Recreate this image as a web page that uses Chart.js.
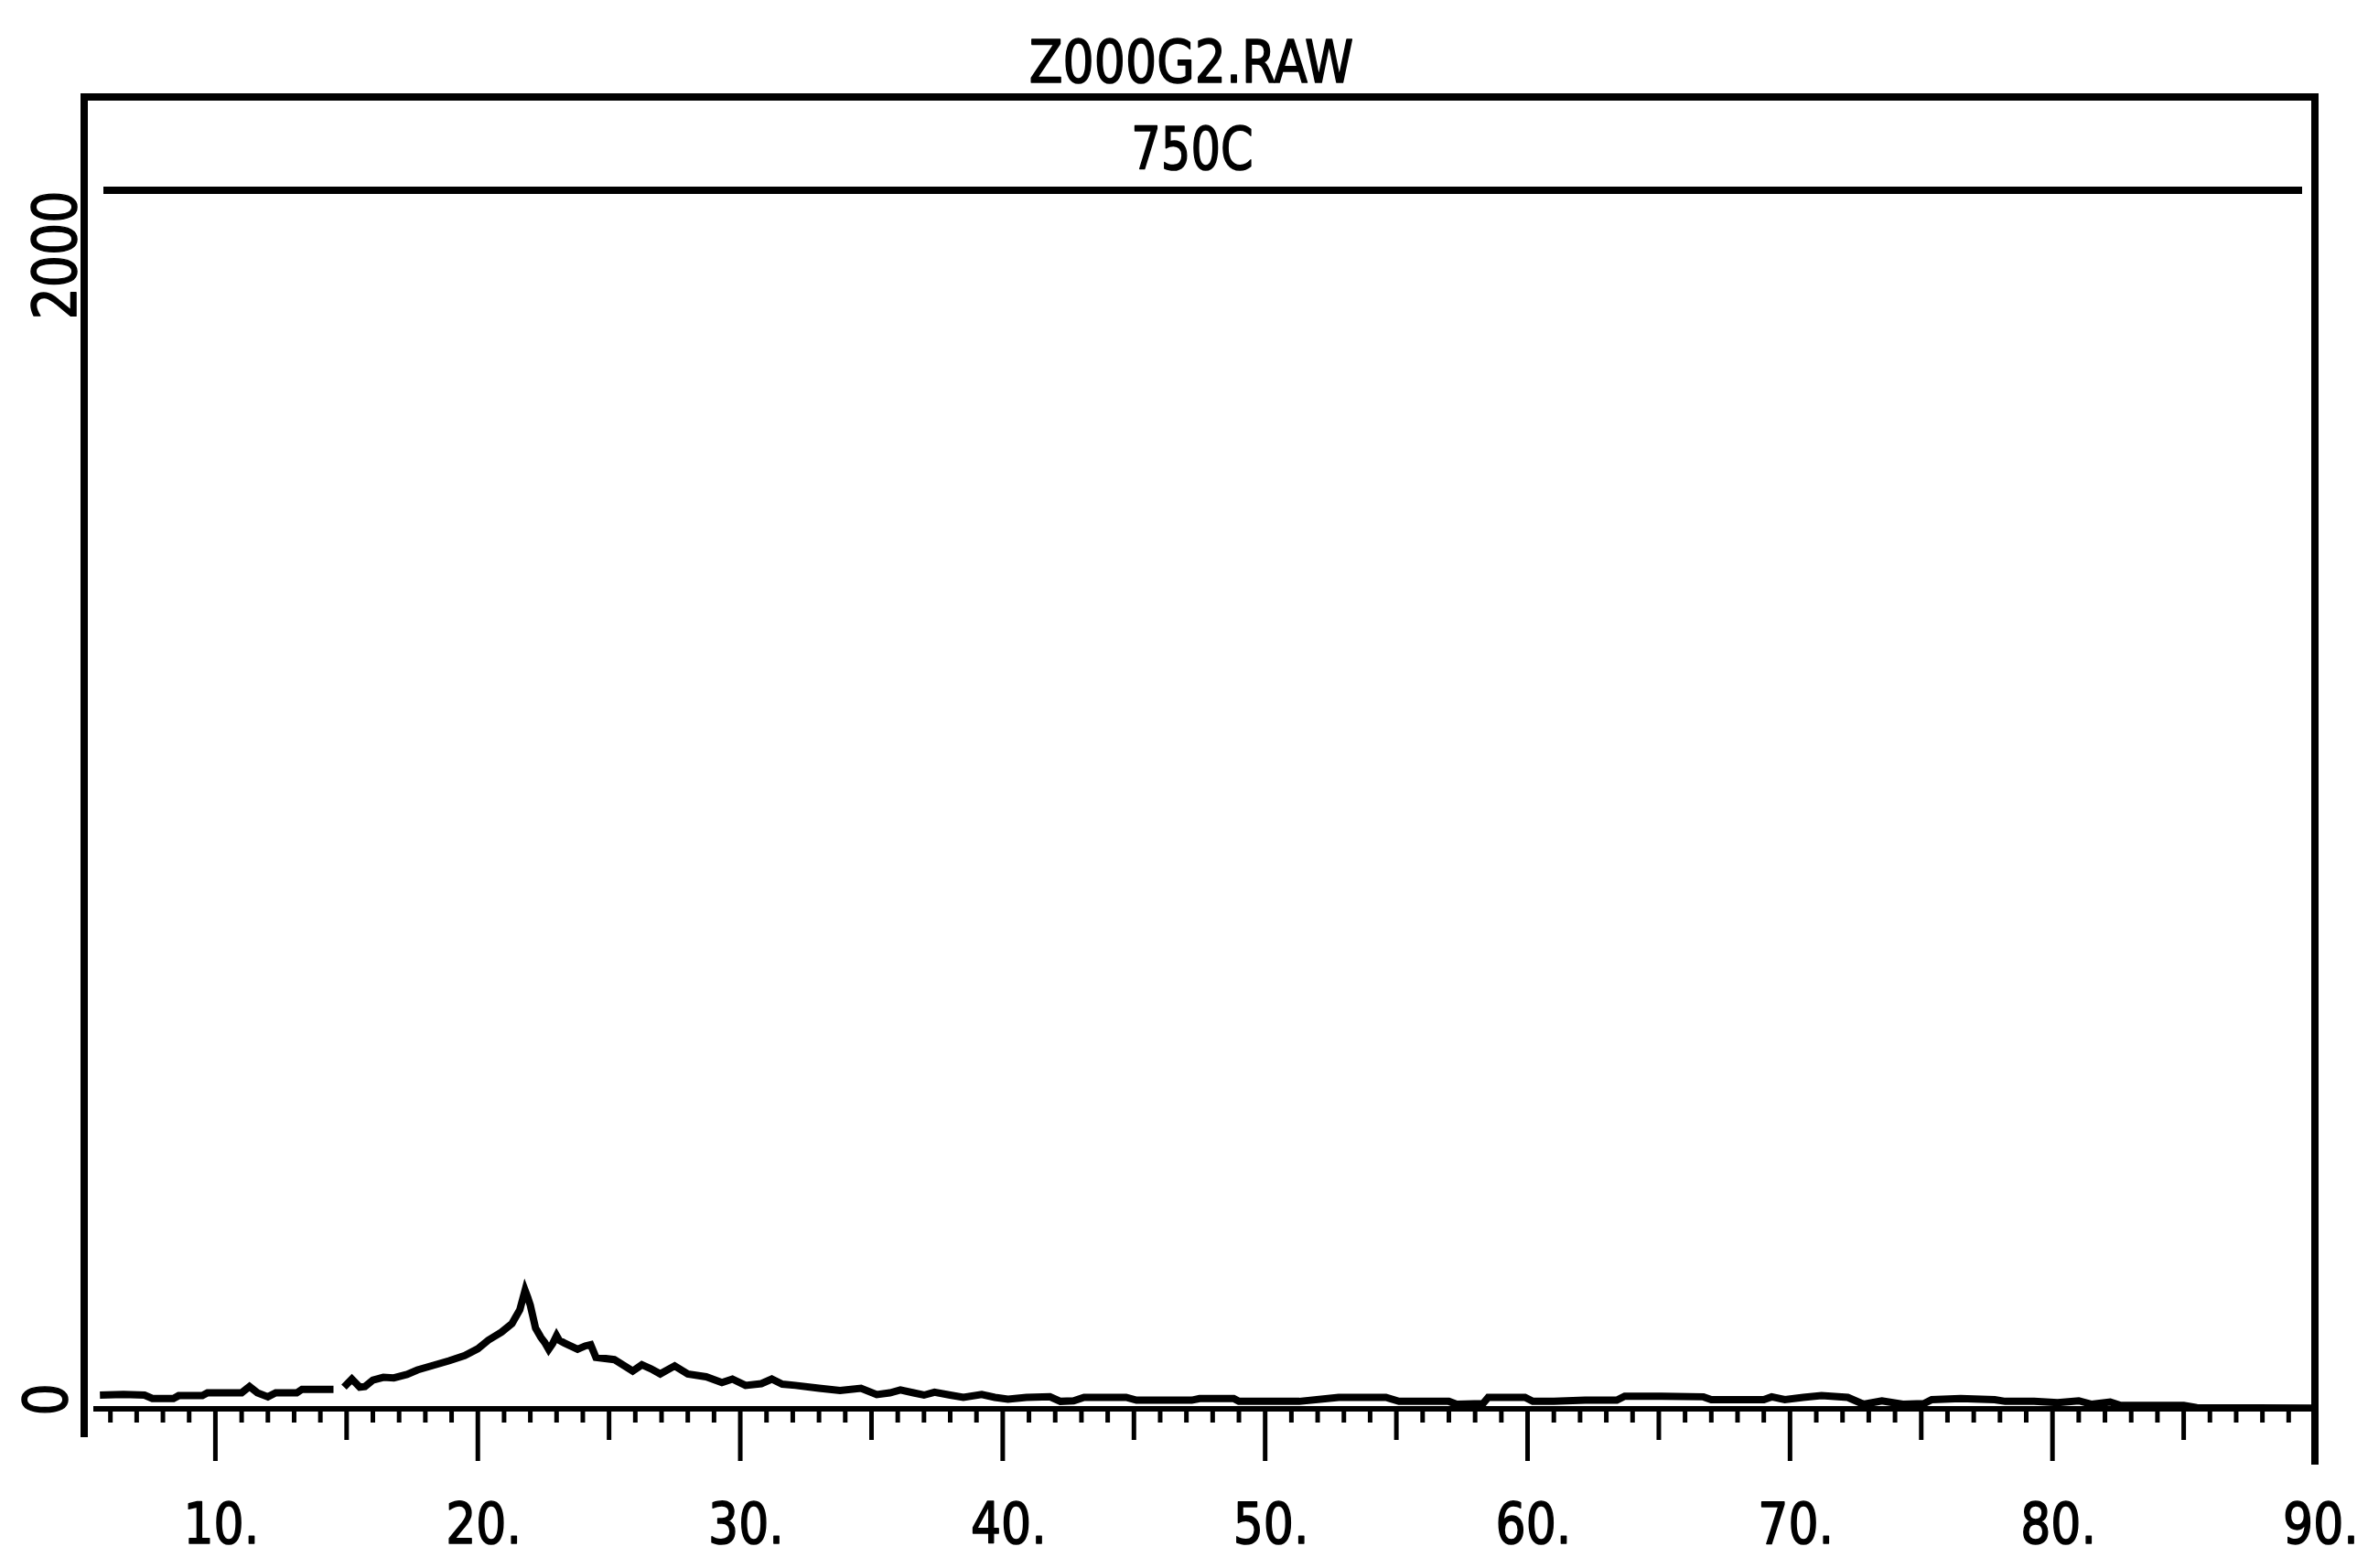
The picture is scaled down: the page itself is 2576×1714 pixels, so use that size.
<!DOCTYPE html>
<html>
<head>
<meta charset="utf-8">
<title>Z000G2.RAW</title>
<script src="https://cdn.jsdelivr.net/npm/chart.js@4/dist/chart.umd.min.js"></script>
<style>
    html, body { margin: 0; padding: 0; background: #fff; }
    canvas { display: block; }
</style>
</head>
<body>
<canvas id="xrdChart" width="2576" height="1714"></canvas>
<script>
// scan header
const fileName = "Z000G2.RAW";
const sampleLabel = "750C";

// 2-theta (deg) and counts; null = pen lift
const twoTheta = [
    5.6, 6.5, 7.3, 7.6, 8.4, 8.6, 9.5, 9.7, 11.0, 11.3, 11.6, 12.0, 12.3, 13.1, 13.3, 14.5,
    14.6, 14.9, 15.2, 15.5, 15.7, 16.0, 16.4, 16.8, 17.3, 17.7, 18.3, 18.9, 19.5, 20.0, 20.4,
    20.9, 21.3, 21.6, 21.8, 21.9, 22.0, 22.2, 22.4, 22.55, 22.7, 22.85, 23.0, 23.1, 23.3, 23.8,
    24.1, 24.3, 24.5, 25.2, 25.9, 26.25, 26.6, 26.95, 27.5, 28.0, 28.7, 29.3, 29.7, 30.2, 30.8,
    31.2, 31.6, 32.1, 33.0, 33.8, 34.6, 35.2, 35.7, 36.1, 36.6, 37.0, 37.4, 38.0, 38.5, 39.2,
    39.7, 40.2, 40.9, 41.8, 42.2, 42.7, 43.1, 44.7, 45.1, 47.2, 47.5, 48.8, 49.0, 51.3, 52.8,
    54.6, 55.1, 57.0, 57.3, 58.3, 58.5, 59.9, 60.2, 61.0, 62.2, 63.4, 63.7, 65.1, 66.7, 67.0,
    69.0, 69.3, 69.8, 70.5, 71.2, 72.2, 72.8, 73.5, 74.3, 75.1, 75.4, 76.5, 77.8, 78.2, 79.3,
    80.2, 81.0, 81.5, 82.2, 82.6, 85.0, 85.5, 90.0
];
const counts = [
    14, 15, 14, 8, 8, 13, 13, 18, 18, 29, 18, 11, 18, 18, 24, 24,
    null, 28, 42, 28, 29, 40, 45, 44, 50, 58, 66, 74, 83, 95, 110,
    124, 139, 163, 197, 185, 171, 131, 115, 106, 94, 104, 118, 110, 105, 94,
    100, 102, 80, 76, 56, 67, 60, 51, 65, 51, 46, 36, 42, 31, 34,
    42, 33, 31, 26, 22, 26, 15, 18, 23, 18, 14, 19, 14, 10, 15,
    10, 7, 10, 11, 3, 4, 10, 10, 5, 5, 8, 8, 3, 3, 10,
    10, 3, 3, -2, -1, 10, 10, 3, 3, 5, 5, 12, 12, 11, 6,
    6, 11, 6, 10, 13, 10, -2, 4, -2, -1, 6, 8, 6, 3, 3,
    1, 4, -2, 2, -4, -4, -8, -9
];

// axis labelling
const xMajorTicks = [10, 20, 30, 40, 50, 60, 70, 80, 90];
const xTickLabels = ["10.", "20.", "30.", "40.", "50.", "60.", "70.", "80.", "90."];
const yTicks = [0, 2000];
const yTickLabels = ["0", "2000"];
const headerLineCount = 2120;

const INK = "#000";
const FONT = '"DejaVu Sans", sans-serif';

// condensed plotter-style text: squeeze along the writing direction, thicken the pen a bit
function plotterText(ctx, text, x, y, size, squeeze, align, angle) {
    ctx.save();
    ctx.translate(x, y);
    if (angle) ctx.rotate(angle);
    ctx.scale(squeeze, 1);
    ctx.font = size + "px " + FONT;
    ctx.fillStyle = INK;
    ctx.strokeStyle = INK;
    ctx.lineWidth = 1.6;
    ctx.lineJoin = "round";
    ctx.textAlign = align;
    ctx.textBaseline = "alphabetic";
    ctx.fillText(text, 0, 0);
    ctx.strokeText(text, 0, 0);
    ctx.restore();
}

const framePlugin = {
    id: "plotterFrame",
    afterDraw(chart) {
        const ctx = chart.ctx;
        const area = chart.chartArea;
        const xs = chart.scales.x;
        const ys = chart.scales.y;

        ctx.save();
        ctx.strokeStyle = INK;
        ctx.lineCap = "square";

        // box: top, left, right
        ctx.lineWidth = 8;
        ctx.beginPath();
        ctx.moveTo(area.left, area.bottom + 27);
        ctx.lineTo(area.left, area.top);
        ctx.lineTo(area.right, area.top);
        ctx.lineTo(area.right, area.bottom + 57);
        ctx.stroke();

        // rule under the sample label
        const yHead = ys.getPixelForValue(headerLineCount);
        ctx.lineWidth = 8;
        ctx.beginPath();
        ctx.moveTo(area.left + 25, yHead);
        ctx.lineTo(area.right - 18, yHead);
        ctx.stroke();

        // bottom axis with hanging ticks
        ctx.lineWidth = 6;
        ctx.beginPath();
        ctx.moveTo(area.left + 13, area.bottom);
        ctx.lineTo(area.right, area.bottom);
        ctx.stroke();

        ctx.lineWidth = 5;
        ctx.lineCap = "butt";
        for (let t = Math.ceil(xs.min); t <= xs.max; t++) {
            if (t === xs.min) continue;
            let len = 15;
            if (t % 10 === 0) len = 57;
            else if (t % 5 === 0) len = 34;
            const px = xs.getPixelForValue(t);
            ctx.beginPath();
            ctx.moveTo(px, area.bottom);
            ctx.lineTo(px, area.bottom + len);
            ctx.stroke();
        }
        ctx.restore();

        // x tick labels
        xMajorTicks.forEach((t, i) => {
            plotterText(ctx, xTickLabels[i], xs.getPixelForValue(t) - 35, 1687, 62, 0.84, "left", 0);
        });

        // y tick labels, written upward
        yTicks.forEach((v, i) => {
            const py = ys.getPixelForValue(v);
            const tx = v === 0 ? 73 : 83;
            plotterText(ctx, yTickLabels[i], tx, py - 4, 66, 0.84, "center", -Math.PI / 2);
        });

        // header
        plotterText(ctx, fileName, 1302, 90, 64, 0.84, "center", 0);
        plotterText(ctx, sampleLabel, 1303, 185, 64, 0.8, "center", 0);
    }
};

const points = twoTheta.map((t, i) => ({ x: t, y: counts[i] }));

new Chart(document.getElementById("xrdChart"), {
    type: "line",
    data: {
        datasets: [{
            data: points,
            borderColor: INK,
            borderWidth: 8,
            pointRadius: 0,
            tension: 0,
            spanGaps: false,
            fill: false
        }]
    },
    options: {
        responsive: false,
        animation: false,
        devicePixelRatio: 1,
        layout: { padding: { left: 92, right: 46, top: 106, bottom: 174 } },
        plugins: { legend: { display: false }, tooltip: { enabled: false } },
        scales: {
            x: { type: "linear", min: 5, max: 90, display: false },
            y: { type: "linear", min: -10, max: 2283, display: false }
        }
    },
    plugins: [framePlugin]
});
</script>
</body>
</html>
